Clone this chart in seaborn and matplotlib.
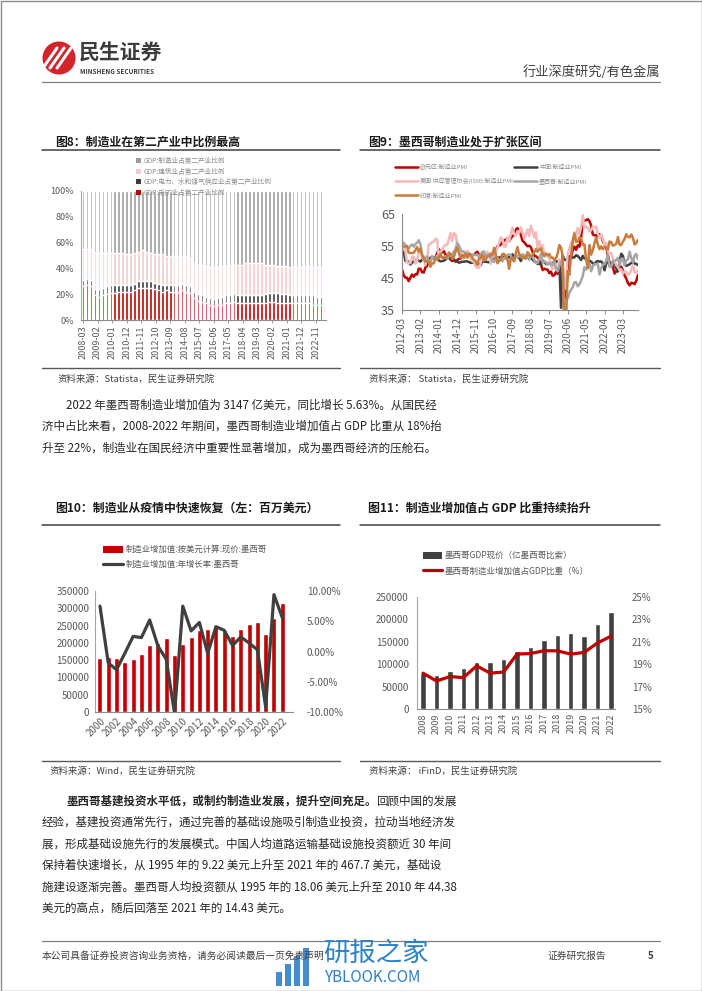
import numpy as np
import pandas as pd
import matplotlib
matplotlib.use('Agg')
import matplotlib.pyplot as plt
import seaborn as sns
from matplotlib.lines import Line2D
from matplotlib.patches import Rectangle, Circle, Patch

# ---------------- data ----------------
# Fig 8: shares of secondary industry (%), quarterly 2008-03 .. 2023-03
mining = np.array([26, 27, 26, 19, 18, 19, 20, 21, 21, 22, 22, 22, 22, 23, 25, 25,
                   25, 25, 24, 23, 22, 23, 22, 22, 22, 23, 22, 21, 17, 15, 14, 13,
                   12, 11, 12, 12, 13, 13, 14, 13, 13, 13, 13, 13, 13, 13, 13, 14,
                   14, 13, 13, 13, 13, 13, 13, 13, 13, 13, 12, 12, 12])
electric = np.array([5, 5, 5, 5, 6, 6, 6, 6, 6, 5, 5, 5, 5, 5, 5, 5,
                     5, 5, 5, 5, 5, 4, 5, 5, 5, 5, 5, 5, 5, 5, 5, 5,
                     5, 5, 5, 6, 6, 6, 6, 6, 6, 6, 6, 6, 6, 6, 7, 7,
                     7, 8, 7, 7, 6, 6, 6, 6, 6, 6, 7, 6, 6])
construction = np.array([24, 23, 24, 29, 28, 27, 26, 25, 25, 25, 25, 24, 24, 24, 23, 24,
                         23, 22, 22, 23, 24, 23, 23, 23, 23, 22, 23, 22, 22, 23, 24, 24,
                         24, 25, 24, 24, 23, 24, 23, 24, 24, 25, 25, 25, 25, 25, 23, 22,
                         22, 21, 22, 22, 22, 22, 22, 22, 23, 23, 22, 23, 23])
manufacturing = np.array([45, 45, 45, 47, 48, 48, 48, 48, 48, 48, 48, 49, 49, 48, 47, 46,
                          47, 48, 49, 49, 49, 50, 50, 50, 50, 50, 50, 52, 56, 57, 57, 58,
                          59, 59, 59, 58, 58, 57, 57, 57, 57, 56, 56, 56, 56, 56, 57, 57,
                          57, 58, 58, 58, 59, 59, 59, 59, 58, 58, 59, 59, 59])
fig8_ticklabels = ['2008-03', '2009-02', '2010-01', '2010-12', '2011-11', '2012-10', '2013-09',
                   '2014-08', '2015-07', '2016-06', '2017-05', '2018-04', '2019-03', '2020-02',
                   '2021-01', '2021-12', '2022-11']
fig8_legend = ['GDP:制造业占第二产业比例', 'GDP:建筑业占第二产业比例',
               'GDP:电力、水和煤气供应业占第二产业比例', 'GDP:采矿业占第二产业比例']

# Fig 9: manufacturing PMI, monthly 2012-03 .. 2023-12
pmi_euro = [47.7, 45.9, 45.1, 45.1, 44.0, 45.1, 46.1, 45.4, 46.2, 46.1,
            47.9, 47.9, 46.8, 46.7, 48.3, 48.8, 50.3, 51.4, 51.1, 51.3, 51.6, 52.7,
            54.0, 53.2, 53.0, 53.4, 52.2, 51.8, 51.8, 50.7, 50.3, 50.6, 50.1, 50.6,
            51.0, 51.0, 52.2, 52.0, 52.2, 52.5, 52.4, 52.3, 52.0, 52.3, 52.8, 53.2,
            52.3, 51.2, 51.6, 51.7, 51.5, 52.8, 52.0, 51.7, 52.6, 53.5, 53.7, 54.9,
            55.2, 55.4, 56.2, 56.7, 57.0, 57.4, 56.6, 57.4, 58.1, 58.5, 60.1, 60.6,
            59.6, 58.6, 56.6, 56.2, 55.5, 54.9, 55.1, 54.6, 53.2, 52.0, 51.8, 51.4,
            50.5, 49.3, 47.5, 47.9, 47.7, 47.6, 46.5, 47.0, 45.7, 45.9, 46.9, 46.3,
            47.9, 49.2, 44.5, 33.4, 39.4, 47.4, 51.8, 51.7, 53.7, 54.8, 53.8, 55.2,
            54.8, 57.9, 62.5, 62.9, 63.1, 63.4, 62.8, 61.4, 58.6, 58.3, 58.4, 58.0,
            58.7, 58.2, 56.5, 55.5, 54.6, 52.1, 49.8, 49.6, 48.4, 46.4, 47.1, 47.8,
            48.8, 48.5, 47.3, 45.8, 44.8, 43.4, 42.7, 43.5, 43.4, 43.1, 44.2, 45.9]
pmi_china = [53.1, 53.3, 50.4, 50.2, 50.1, 49.2, 49.8, 50.2, 50.6, 50.6,
             50.4, 50.1, 50.9, 50.6, 50.8, 50.1, 50.3, 51.0, 51.1, 51.4, 51.4, 51.0,
             50.5, 50.2, 50.3, 50.4, 50.8, 51.0, 51.7, 51.1, 51.1, 50.8, 50.3, 50.1,
             49.8, 49.9, 50.1, 50.1, 50.2, 50.2, 50.0, 49.7, 49.8, 49.8, 49.6, 49.7,
             49.4, 49.0, 50.2, 50.1, 50.1, 50.0, 49.9, 50.4, 50.4, 51.2, 51.7, 51.4,
             51.3, 51.6, 51.8, 51.2, 51.2, 51.7, 51.4, 51.7, 52.4, 51.6, 51.8, 51.6,
             51.3, 50.3, 51.5, 51.4, 51.9, 51.5, 51.2, 51.3, 50.8, 50.2, 50.0, 49.4,
             49.5, 49.2, 50.5, 50.1, 49.4, 49.4, 49.7, 49.5, 49.8, 49.3, 50.2, 50.2,
             50.0, 35.7, 52.0, 50.8, 50.6, 50.9, 51.1, 51.0, 51.5, 51.4, 52.1, 51.9,
             51.3, 50.6, 51.9, 51.1, 51.0, 50.9, 50.4, 50.1, 49.6, 49.2, 50.1, 50.3,
             50.1, 50.2, 49.5, 47.4, 49.6, 50.2, 49.0, 49.4, 50.1, 49.2, 48.0, 47.0,
             50.1, 52.6, 51.9, 49.2, 48.8, 49.0, 49.3, 49.7, 50.2, 49.5, 49.4, 49.0]
pmi_us = [53.4, 54.8, 53.5, 49.7, 49.8, 49.6, 51.5, 51.7, 49.5, 50.2,
          53.1, 54.2, 51.3, 50.7, 49.0, 50.9, 55.4, 55.7, 56.2, 56.4, 57.3, 57.0,
          51.3, 53.2, 53.7, 54.9, 55.4, 55.3, 57.1, 59.0, 56.6, 59.0, 58.7, 55.5,
          53.5, 52.9, 51.5, 51.5, 52.8, 53.5, 52.7, 51.1, 50.2, 50.1, 48.6, 48.2,
          48.2, 49.5, 51.8, 50.8, 51.3, 53.2, 52.6, 49.4, 51.5, 51.9, 53.2, 54.5,
          56.0, 57.7, 57.2, 54.8, 54.9, 57.8, 56.3, 58.8, 60.8, 58.7, 58.2, 59.7,
          59.1, 60.8, 59.3, 57.3, 58.7, 60.2, 58.1, 61.3, 59.8, 57.7, 59.3, 54.3,
          56.6, 54.2, 55.3, 52.8, 52.1, 51.7, 51.2, 49.1, 47.8, 48.3, 48.1, 47.2,
          50.9, 50.1, 49.1, 41.5, 43.1, 52.6, 54.2, 56.0, 55.4, 59.3, 57.5, 60.7,
          58.7, 60.8, 64.7, 60.7, 61.2, 60.6, 59.5, 59.9, 61.1, 60.8, 61.1, 58.8,
          57.6, 58.6, 57.1, 55.4, 56.1, 53.0, 52.8, 52.8, 50.9, 50.2, 49.0, 48.4,
          47.4, 47.7, 46.3, 47.1, 46.9, 46.0, 46.4, 47.6, 49.0, 46.7, 46.7, 47.4]
pmi_mexico = [55.6, 56.0, 55.3, 54.9, 54.3, 55.0, 55.5, 54.8, 55.6, 56.0,
              56.8, 55.5, 52.4, 51.7, 51.0, 51.7, 50.4, 49.8, 51.9, 50.8, 51.5, 52.0,
              52.0, 51.6, 51.5, 51.4, 51.8, 51.0, 51.8, 52.6, 52.1, 53.3, 54.1, 56.0,
              55.2, 54.0, 53.2, 53.3, 52.5, 52.6, 52.0, 52.3, 52.1, 52.4, 52.1, 52.4,
              51.5, 52.3, 53.2, 53.3, 51.7, 52.2, 52.3, 51.6, 50.3, 50.0, 51.3, 51.3,
              50.4, 50.8, 50.2, 51.3, 51.2, 52.2, 52.4, 52.1, 50.6, 50.2, 52.1, 51.4,
              52.1, 51.6, 52.4, 52.1, 51.0, 52.1, 50.7, 52.1, 51.7, 50.7, 49.7, 49.7,
              50.9, 52.6, 49.8, 50.1, 50.0, 49.2, 49.8, 49.0, 49.1, 50.4, 48.0, 47.1,
              49.0, 50.0, 47.9, 35.0, 38.3, 38.6, 40.4, 41.3, 42.1, 43.6, 43.7, 42.4,
              43.0, 44.2, 45.6, 48.4, 47.6, 48.8, 49.6, 47.1, 48.6, 49.3, 49.4, 49.4,
              46.1, 48.0, 49.2, 49.3, 50.6, 52.2, 48.5, 48.5, 50.3, 50.3, 50.6, 51.3,
              48.9, 51.0, 51.0, 49.0, 50.5, 50.9, 53.2, 51.2, 49.8, 52.1, 52.5, 50.9]
pmi_india = [54.7, 54.9, 54.8, 55.0, 52.9, 52.8, 52.8, 52.9, 53.7, 54.7,
             53.2, 54.2, 52.0, 51.0, 50.1, 50.3, 50.1, 48.5, 49.6, 49.6, 51.3, 50.7,
             51.4, 52.5, 51.3, 51.3, 51.4, 51.5, 53.0, 52.4, 51.0, 51.6, 53.3, 54.5,
             52.9, 51.2, 52.1, 51.3, 52.6, 51.3, 52.7, 52.3, 51.2, 50.7, 50.3, 49.1,
             51.1, 51.1, 52.4, 50.5, 50.7, 51.7, 51.8, 52.6, 52.1, 54.4, 52.3, 49.6,
             50.4, 50.7, 52.5, 52.5, 51.6, 50.9, 47.9, 51.2, 51.2, 50.3, 52.6, 54.7,
             52.4, 52.1, 51.0, 51.6, 51.2, 53.1, 52.3, 51.7, 52.2, 53.1, 54.0, 53.2,
             53.9, 54.3, 52.6, 51.8, 52.7, 52.1, 52.5, 51.4, 51.4, 50.6, 51.2, 52.7,
             55.3, 54.5, 51.8, 27.4, 30.8, 47.2, 46.0, 52.0, 56.8, 58.9, 56.3, 56.4,
             57.7, 57.5, 55.4, 55.5, 50.8, 48.1, 55.3, 52.3, 53.7, 55.9, 57.6, 55.5,
             54.0, 54.9, 54.0, 54.7, 54.6, 53.9, 56.4, 56.2, 55.1, 55.3, 55.7, 57.8,
             55.4, 55.3, 56.4, 57.2, 58.7, 57.8, 57.7, 58.6, 57.5, 55.5, 56.0, 56.9]
fig9_names = ['欧元区:制造业PMI', '中国:制造业PMI', '美国:供应管理协会(ISM):制造业PMI',
              '墨西哥:制造业PMI', '印度:制造业PMI']
fig9_ticklabels = ['2012-03', '2013-02', '2014-01', '2014-12', '2015-11', '2016-10', '2017-09',
                   '2018-08', '2019-07', '2020-06', '2021-05', '2022-04', '2023-03']

# Fig 10: manufacturing value added (USD mn) and yoy growth (%)
years10 = list(range(2000, 2023))
mva_usd = [157000, 158000, 156000, 144000, 154000, 167000, 194000, 201000, 213000, 165000,
           196000, 218000, 237000, 241000, 248000, 238000, 220000, 241000, 254000, 259000,
           225000, 273000, 314700]
mva_growth = [7.5, -1.9, -3.0, -0.3, 2.5, 2.3, 5.2, 0.9, -1.3, -10.2,
              7.5, 3.4, 4.8, -0.3, 4.1, 3.5, 1.0, 2.4, 1.4, 0.3,
              -9.2, 9.4, 5.63]
fig10_legend = ['制造业增加值:按美元计算:现价:墨西哥', '制造业增加值:年增长率:墨西哥']

# Fig 11: GDP (100 mn MXN) and manufacturing share of GDP (%)
years11 = list(range(2008, 2023))
gdp_mxn = [80000, 75000, 84000, 91000, 104000, 104000, 112000, 129000, 139000, 154000,
           166000, 170000, 164000, 189000, 216000]
mfg_share = [18.2, 17.5, 17.9, 17.8, 18.85, 18.2, 18.3, 19.9, 19.95, 20.2, 20.2, 19.9,
             20.05, 20.9, 21.5]
fig11_legend = ['墨西哥GDP现价（亿墨西哥比索）', '墨西哥制造业增加值占GDP比重（%）']

# ---------------- style ----------------
sns.set_style('white')
plt.rcParams['font.family'] = ['Noto Sans CJK SC', 'DejaVu Sans']
plt.rcParams['axes.unicode_minus'] = False

W, H = 702, 991
fig = plt.figure(figsize=(W / 100, H / 100), dpi=100)
TXT = '#262626'
TICK = '#595959'
GRID = '#a6a6a6'


def axpx(x0, y0, x1, y1):
    return fig.add_axes([x0 / W, 1 - y1 / H, (x1 - x0) / W, (y1 - y0) / H])


def T(x, y, s, **kw):
    kw.setdefault('va', 'center')
    kw.setdefault('color', TXT)
    return fig.text(x / W, 1 - y / H, s, **kw)


def HL(x0, x1, y, **kw):
    fig.add_artist(Line2D([x0 / W, x1 / W], [1 - y / H, 1 - y / H], transform=fig.transFigure, **kw))


def style_axes(ax, left=True):
    for s in ['top', 'right']:
        ax.spines[s].set_visible(False)
    ax.spines['left'].set_visible(left)
    ax.spines['left'].set_color(GRID)
    ax.spines['bottom'].set_color('#8c8c8c')
    ax.spines['left'].set_linewidth(0.8)
    ax.spines['bottom'].set_linewidth(0.8)
    ax.set_xlabel('')
    ax.set_ylabel('')
    ax.grid(False)


# ---------------- page decoration ----------------
fig.add_artist(Rectangle((0.5 / W, 0.5 / H), (W - 1) / W, (H - 1) / H, transform=fig.transFigure,
                         fill=False, edgecolor='#8c8c8c', lw=1))
fig.add_artist(Circle((59 / 100, (H - 58) / 100), 0.165, transform=fig.dpi_scale_trans,
                      facecolor='#d5232b', edgecolor='none'))
for dx in (-7, 0, 7):
    fig.add_artist(Line2D([(50 + dx) / W, (64 + dx) / W], [1 - 68 / H, 1 - 48 / H],
                          transform=fig.transFigure, color='white', lw=2.2, solid_capstyle='round'))
T(79, 53, '民生证券', fontsize=15, weight='bold', color='#3c3c3c')
T(80, 71, 'MINSHENG SECURITIES', fontsize=4.6, weight='bold', color='#3c3c3c')
T(660, 72, '行业深度研究/有色金属', fontsize=9.5, ha='right', color='#404040')
HL(42, 660, 82, color='#7f7f7f', lw=0.9)

# titles
T(55, 142, '图8：制造业在第二产业中比例最高', fontsize=8.6, weight='bold', color='#1a1a1a')
T(368, 142, '图9：墨西哥制造业处于扩张区间', fontsize=8.6, weight='bold', color='#1a1a1a')
HL(42, 340, 150, color='#404040', lw=1.1)
HL(360, 660, 150, color='#404040', lw=1.1)
HL(42, 340, 368, color='#595959', lw=1.0)
HL(360, 660, 368, color='#595959', lw=1.0)
T(57, 379, '资料来源：Statista，民生证券研究院', fontsize=6.8, color='#404040')
T(369, 379, '资料来源： Statista，民生证券研究院', fontsize=6.8, color='#404040')

T(55, 508, '图10：制造业从疫情中快速恢复（左：百万美元）', fontsize=8.6, weight='bold', color='#1a1a1a')
T(368, 508, '图11：制造业增加值占 GDP 比重持续抬升', fontsize=8.6, weight='bold', color='#1a1a1a')
HL(42, 340, 525, color='#404040', lw=1.1)
HL(360, 660, 525, color='#404040', lw=1.1)
HL(42, 340, 761, color='#595959', lw=1.0)
HL(360, 660, 761, color='#595959', lw=1.0)
T(50, 771, '资料来源：Wind，民生证券研究院', fontsize=6.8, color='#404040')
T(369, 771, '资料来源： iFinD，民生证券研究院', fontsize=6.8, color='#404040')

# paragraphs
PF = 8.3
p1 = ['2022 年墨西哥制造业增加值为 3147 亿美元，同比增长 5.63%。从国民经',
      '济中占比来看，2008-2022 年期间，墨西哥制造业增加值占 GDP 比重从 18%抬',
      '升至 22%，制造业在国民经济中重要性显著增加，成为墨西哥经济的压舱石。']
for i, line in enumerate(p1):
    T(66 if i == 0 else 42, 405 + 21.5 * i, line, fontsize=PF)

renderer = fig.canvas.get_renderer()
tb = T(66, 801, '墨西哥基建投资水平低，或制约制造业发展，提升空间充足。', fontsize=PF, weight='bold')
bb = tb.get_window_extent(renderer=renderer)
T(bb.x1, 801, '回顾中国的发展', fontsize=PF)
p2 = ['经验，基建投资通常先行，通过完善的基础设施吸引制造业投资，拉动当地经济发',
      '展，形成基础设施先行的发展模式。中国人均道路运输基础设施投资额近 30 年间',
      '保持着快速增长，从 1995 年的 9.22 美元上升至 2021 年的 467.7 美元，基础设',
      '施建设逐渐完善。墨西哥人均投资额从 1995 年的 18.06 美元上升至 2010 年 44.38',
      '美元的高点，随后回落至 2021 年的 14.43 美元。']
for i, line in enumerate(p2):
    T(42, 822.5 + 21.4 * i, line, fontsize=PF)

# footer
HL(42, 660, 941, color='#7f7f7f', lw=0.9)
T(42, 956, '本公司具备证券投资咨询业务资格，请务必阅读最后一页免责声明', fontsize=7, color='#404040')
T(547, 956, '证券研究报告', fontsize=7, color='#404040')
T(648, 956, '5', fontsize=7, weight='bold', color='#404040')
BLUE = '#2f80c6'
for bx, bh in [(276, 14), (285, 22), (294, 30), (303, 38)]:
    fig.add_artist(Rectangle((bx / W, 1 - 986 / H), 6 / W, bh / H, transform=fig.transFigure,
                             facecolor=BLUE, edgecolor='none', alpha=0.9))
T(323, 953, '研报之家', fontsize=19, color=BLUE)
T(325, 977, 'YBLOOK.COM', fontsize=11, color=BLUE)

# ---------------- Figure 8 ----------------
# 4 px per quarter so the narrow bars land evenly on the pixel grid
ax8 = axpx(81, 191, 326, 320)
idx8 = np.arange(len(mining))
cum1 = mining
cum2 = mining + electric
cum3 = cum2 + construction
cum4 = cum3 + manufacturing
C8 = ['#9c9c9c', '#f3cbcb', '#3a3a3a', '#c00000']
for vals, col in zip([cum4, cum3, cum2, cum1], C8):
    sns.barplot(x=idx8, y=vals / 100.0, color=col, width=0.62, saturation=1, errorbar=None, ax=ax8)
style_axes(ax8)
ax8.set_xlim(-0.5, len(mining) + 0.25)
ax8.set_ylim(0, 1)
ax8.set_yticks(np.linspace(0, 1, 6))
ax8.set_yticklabels([f'{int(v * 100)}%' for v in np.linspace(0, 1, 6)])
pos8 = [((int(s[:4]) - 2008) * 12 + int(s[5:]) - 3) / 3 for s in fig8_ticklabels]
ax8.set_xticks(pos8)
ax8.set_xticklabels(fig8_ticklabels, rotation=90)
ax8.tick_params(axis='x', length=2, width=0.6, color='#8c8c8c', labelsize=6.5, labelcolor=TICK, pad=2,
                bottom=True)
ax8.tick_params(axis='y', length=0, labelsize=6.5, labelcolor=TICK, pad=5)
h8 = [Patch(facecolor=c, edgecolor='none') for c in C8]
ax8.legend(h8, fig8_legend, loc='upper left', bbox_to_anchor=(136 / W, 1 - 157 / H),
           bbox_transform=fig.transFigure, frameon=False, fontsize=4.8, handlelength=0.8,
           handleheight=0.8, handletextpad=0.3, labelspacing=0.38, labelcolor='#8c8c8c',
           borderpad=0, borderaxespad=0)

# ---------------- Figure 9 ----------------
ax9 = axpx(402, 214, 638, 310)
x9 = np.arange(len(pmi_euro))
cols9 = ['#c00000', '#404040', '#f4b9b9', '#a6a6a6', '#c87d3c']
series9 = [pmi_euro, pmi_china, pmi_us, pmi_mexico, pmi_india]
for vals, col in zip(series9, cols9):
    sns.lineplot(x=x9, y=vals, color=col, lw=1.8, ax=ax9, legend=False)
style_axes(ax9)
ax9.spines['left'].set_color('#8c8c8c')
ax9.set_xlim(0, len(pmi_euro) - 1)
ax9.set_ylim(35, 65)
ax9.set_yticks([35, 45, 55, 65])
pos9 = [(int(s[:4]) - 2012) * 12 + int(s[5:]) - 3 for s in fig9_ticklabels]
ax9.set_xticks(pos9)
ax9.set_xticklabels(fig9_ticklabels, rotation=90)
ax9.tick_params(axis='x', length=3, width=0.7, color='#8c8c8c', labelsize=7, labelcolor=TICK, pad=2,
                bottom=True)
ax9.tick_params(axis='y', length=0, labelsize=9, labelcolor=TICK, pad=5)
leg9_pos = [(395, 167), (514, 167), (395, 181), (514, 181), (395, 195)]
for k, (lx, ly) in enumerate(leg9_pos):
    fig.add_artist(Line2D([lx / W, (lx + 23) / W], [1 - ly / H] * 2, transform=fig.transFigure,
                          color=cols9[k], lw=1.8))
    T(lx + 25, ly, fig9_names[k], fontsize=4.3, color='#8c8c8c')

# ---------------- Figure 10 ----------------
ax10 = axpx(95, 591, 293, 712)
x10 = np.arange(len(years10))
sns.barplot(x=x10, y=mva_usd, color='#c00000', width=0.6, saturation=1, errorbar=None, ax=ax10)
style_axes(ax10)
ax10.set_ylim(0, 350000)
ax10.set_yticks(range(0, 350001, 50000))
ax10.set_yticklabels([str(v) for v in range(0, 350001, 50000)])
ax10b = ax10.twinx()
sns.lineplot(x=x10, y=mva_growth, color='#404040', lw=2.3, ax=ax10b, legend=False)
for s in ['top', 'right', 'left', 'bottom']:
    ax10b.spines[s].set_visible(False)
ax10b.set_ylim(-10, 10)
ax10b.set_yticks([-10, -5, 0, 5, 10])
ax10b.set_yticklabels([f'{v:.2f}%' for v in [-10, -5, 0, 5, 10]])
ax10b.set_ylabel('')
ax10b.tick_params(axis='y', length=0, labelsize=7, labelcolor=TICK, pad=10)
ax10b.grid(False)
for a in (ax10, ax10b):
    a.set_xlim(-0.6, len(years10) + 0.3)
ax10.set_xticks(x10[::2])
ax10.set_xticklabels([str(y) for y in years10[::2]], rotation=45, ha='right', va='top',
                     rotation_mode='anchor')
ax10.tick_params(axis='x', length=0, labelsize=7, labelcolor=TICK, pad=3)
ax10.tick_params(axis='y', length=0, labelsize=7, labelcolor=TICK, pad=4)
h10 = [Patch(facecolor='#c00000', edgecolor='none'), Line2D([], [], color='#404040', lw=2.3)]
ax10.legend(h10, fig10_legend, loc='upper left', bbox_to_anchor=(103 / W, 1 - 545 / H),
            bbox_transform=fig.transFigure, frameon=False, fontsize=6, handlelength=2.4,
            handleheight=0.9, handletextpad=0.3, labelspacing=0.75, labelcolor='#595959',
            borderpad=0, borderaxespad=0)

# ---------------- Figure 11 ----------------
ax11 = axpx(417, 597, 615, 709)
x11 = np.arange(len(years11))
sns.barplot(x=x11, y=gdp_mxn, color='#404040', width=0.4, saturation=1, errorbar=None, ax=ax11)
style_axes(ax11)
ax11.set_ylim(0, 250000)
ax11.set_yticks(range(0, 250001, 50000))
ax11.set_yticklabels([str(v) for v in range(0, 250001, 50000)])
ax11b = ax11.twinx()
sns.lineplot(x=x11, y=mfg_share, color='#c00000', lw=2.3, ax=ax11b, legend=False)
for s in ['top', 'right', 'left', 'bottom']:
    ax11b.spines[s].set_visible(False)
ax11b.set_ylim(15, 25)
ax11b.set_yticks([15, 17, 19, 21, 23, 25])
ax11b.set_yticklabels([f'{v}%' for v in [15, 17, 19, 21, 23, 25]])
ax11b.set_ylabel('')
ax11b.tick_params(axis='y', length=0, labelsize=7, labelcolor=TICK, pad=12)
ax11b.grid(False)
for a in (ax11, ax11b):
    a.set_xlim(-0.45, len(years11) - 0.7)
ax11.set_xticks(x11)
ax11.set_xticklabels([str(y) for y in years11], rotation=90)
ax11.tick_params(axis='x', length=0, labelsize=6.5, labelcolor=TICK, pad=3)
ax11.tick_params(axis='y', length=0, labelsize=7, labelcolor=TICK, pad=6)
h11 = [Patch(facecolor='#404040', edgecolor='none'), Line2D([], [], color='#c00000', lw=2.3)]
ax11.legend(h11, fig11_legend, loc='upper left', bbox_to_anchor=(423 / W, 1 - 551 / H),
            bbox_transform=fig.transFigure, frameon=False, fontsize=6.1, handlelength=2.3,
            handleheight=0.9, handletextpad=0.3, labelspacing=0.75, labelcolor='#595959',
            borderpad=0, borderaxespad=0)

fig.savefig('out.png', dpi=100)
